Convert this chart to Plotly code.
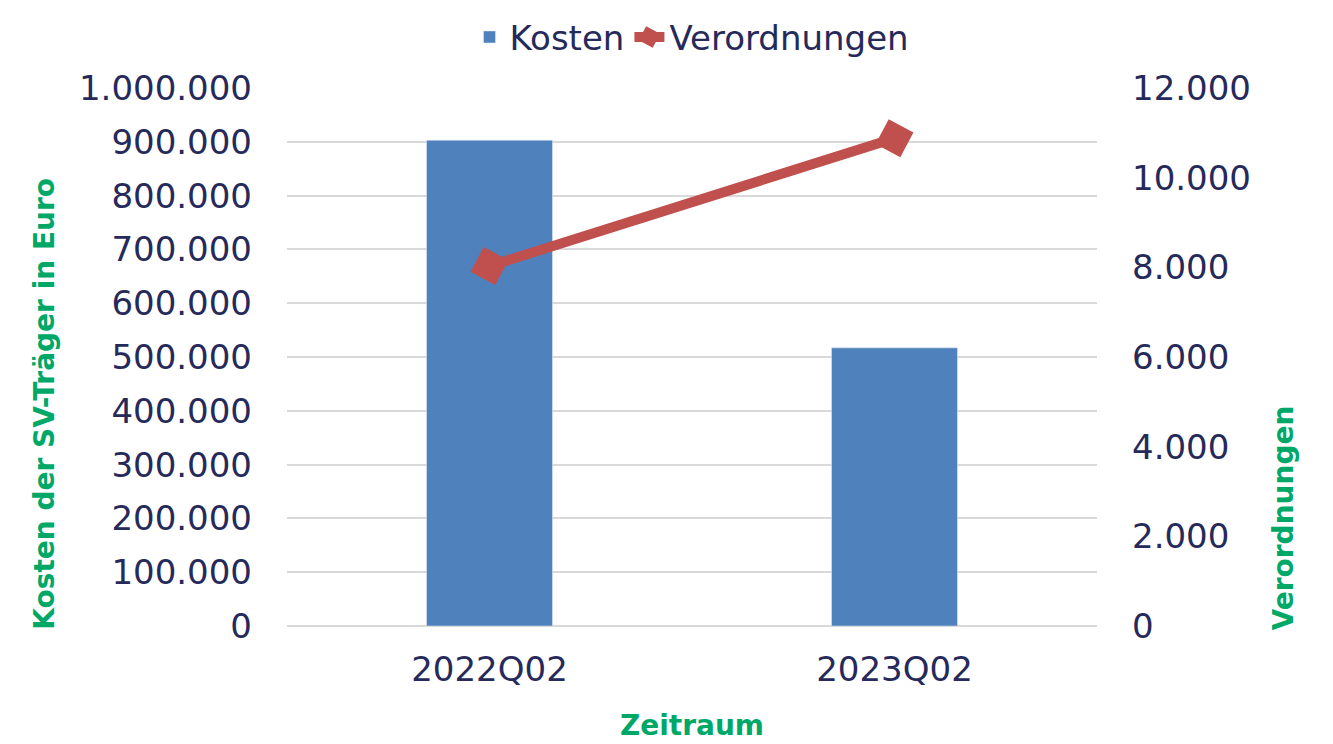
import plotly.graph_objects as go

zeitraum = ["2022Q02", "2023Q02"]
kosten = [903000, 517000]
verordnungen = [8030, 10880]

tick_color = "#262a5a"
title_color = "#00a868"
font_family = "DejaVu Sans"

fig = go.Figure()
fig.add_trace(go.Bar(
    x=zeitraum, y=kosten, name="Kosten",
    marker=dict(color="#4f81bd"), yaxis="y",
))
fig.add_trace(go.Scatter(
    x=zeitraum, y=verordnungen, name="Verordnungen", mode="lines+markers",
    line=dict(color="#c0504d", width=10),
    marker=dict(symbol="square", size=28, angle=28, color="#c0504d"),
    yaxis="y2",
))

fig.update_layout(
    width=1333, height=744,
    margin=dict(l=279, r=244, t=80, b=126, autoexpand=False),
    paper_bgcolor="white", plot_bgcolor="white",
    separators=",.",
    font=dict(family=font_family, color=tick_color, size=34),
    bargap=0.689,
    showlegend=True,
    legend=dict(orientation="h", x=0.5, xanchor="center", y=1.148, yanchor="top",
                font=dict(size=34, color=tick_color), traceorder="normal",
                bgcolor="rgba(0,0,0,0)"),
    xaxis=dict(
        showgrid=False, showline=False, ticks="", ticklabelstandoff=20,
        tickfont=dict(size=34, color=tick_color), automargin=False,
        title=dict(text="<b>Zeitraum</b>", font=dict(size=28, color=title_color), standoff=27),
    ),
    yaxis=dict(
        range=[0, 1000000], dtick=100000, tickformat=",d",
        showgrid=True, gridcolor="#d9d9d9", gridwidth=1.5,
        zeroline=True, zerolinecolor="#d9d9d9", zerolinewidth=2,
        showline=False, ticks="", ticklabelstandoff=34, automargin=False,
        tickfont=dict(size=34, color=tick_color),
    ),
    yaxis2=dict(
        range=[0, 12000], dtick=2000, tickformat=",d", overlaying="y", side="right",
        showgrid=False, zeroline=False, showline=False, ticks="", ticklabelstandoff=34,
        automargin=False, tickfont=dict(size=34, color=tick_color),
    ),
    annotations=[
        dict(text="<b>Kosten der SV-Träger in Euro</b>", textangle=-90,
             xref="paper", yref="paper", x=-0.299, y=-0.011,
             xanchor="center", yanchor="bottom", showarrow=False,
             font=dict(size=28, color=title_color)),
        dict(text="<b>Verordnungen</b>", textangle=-90,
             xref="paper", yref="paper", x=1.2296, y=-0.011,
             xanchor="center", yanchor="bottom", showarrow=False,
             font=dict(size=28, color=title_color)),
    ],
)

fig.write_html("out.html")
